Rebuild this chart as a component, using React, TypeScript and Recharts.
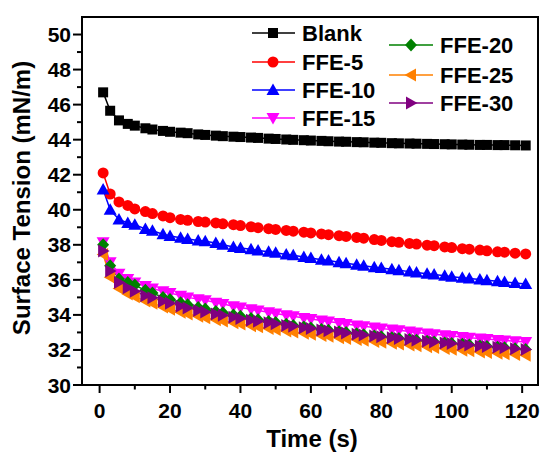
import React from 'react';
import { LineChart, Line, XAxis, YAxis, ReferenceArea } from 'recharts';

const FONT = '"Liberation Sans", Arial, Helvetica, sans-serif';

const times = [1, 3, 5.5, 8, 10, 13, 15, 18, 20, 23, 25, 28, 30, 33, 35, 38, 40, 43, 45, 48, 50, 53, 55, 58, 60, 63, 65, 68, 70, 73, 75, 78, 80, 83, 85, 88, 90, 93, 95, 98, 100, 103, 105, 108, 110, 113, 115, 118, 121];

const blank = [46.7, 45.65, 45.1, 44.9, 44.8, 44.65, 44.58, 44.5, 44.45, 44.4, 44.37, 44.3, 44.27, 44.23, 44.2, 44.17, 44.15, 44.12, 44.1, 44.06, 44.04, 44.01, 43.99, 43.97, 43.95, 43.93, 43.91, 43.89, 43.88, 43.86, 43.85, 43.83, 43.82, 43.8, 43.79, 43.78, 43.77, 43.76, 43.75, 43.74, 43.73, 43.72, 43.71, 43.7, 43.7, 43.69, 43.69, 43.68, 43.67];
const ffe5 = [42.1, 40.9, 40.45, 40.25, 40.05, 39.9, 39.78, 39.65, 39.55, 39.45, 39.4, 39.33, 39.3, 39.25, 39.2, 39.15, 39.1, 39.03, 38.98, 38.92, 38.88, 38.82, 38.78, 38.72, 38.68, 38.62, 38.58, 38.52, 38.48, 38.42, 38.38, 38.3, 38.25, 38.18, 38.14, 38.08, 38.04, 37.98, 37.95, 37.88, 37.84, 37.78, 37.75, 37.7, 37.66, 37.6, 37.58, 37.52, 37.48];
const ffe10 = [41.15, 40.0, 39.45, 39.25, 39.15, 38.9, 38.8, 38.6, 38.5, 38.4, 38.33, 38.25, 38.2, 38.1, 38.0, 37.88, 37.82, 37.74, 37.68, 37.6, 37.55, 37.45, 37.4, 37.3, 37.25, 37.15, 37.1, 37.0, 36.95, 36.86, 36.8, 36.72, 36.67, 36.6, 36.55, 36.47, 36.42, 36.35, 36.3, 36.23, 36.18, 36.12, 36.08, 36.02, 35.98, 35.92, 35.88, 35.82, 35.76];
const ffe15 = [38.15, 37.0, 36.35, 36.05, 35.85, 35.65, 35.5, 35.35, 35.25, 35.1, 35.0, 34.9, 34.83, 34.7, 34.62, 34.5, 34.42, 34.32, 34.25, 34.15, 34.08, 33.98, 33.92, 33.83, 33.77, 33.68, 33.62, 33.54, 33.48, 33.4, 33.35, 33.28, 33.23, 33.16, 33.12, 33.05, 33.0, 32.94, 32.9, 32.84, 32.8, 32.74, 32.7, 32.65, 32.62, 32.57, 32.54, 32.5, 32.46];
const ffe20 = [38.0, 36.8, 36.05, 35.85, 35.7, 35.4, 35.25, 35.0, 34.88, 34.7, 34.58, 34.42, 34.33, 34.2, 34.12, 34.0, 33.92, 33.8, 33.73, 33.62, 33.56, 33.46, 33.4, 33.31, 33.25, 33.17, 33.12, 33.04, 32.99, 32.92, 32.87, 32.8, 32.76, 32.7, 32.66, 32.6, 32.56, 32.5, 32.46, 32.4, 32.37, 32.32, 32.28, 32.23, 32.2, 32.15, 32.12, 32.07, 32.02];
const ffe25 = [37.45, 36.15, 35.5, 35.2, 35.03, 34.8, 34.67, 34.45, 34.32, 34.15, 34.05, 33.92, 33.84, 33.72, 33.65, 33.55, 33.48, 33.38, 33.32, 33.22, 33.17, 33.08, 33.03, 32.95, 32.9, 32.82, 32.78, 32.7, 32.66, 32.59, 32.55, 32.48, 32.44, 32.38, 32.34, 32.28, 32.24, 32.18, 32.14, 32.08, 32.04, 31.98, 31.95, 31.89, 31.86, 31.81, 31.78, 31.74, 31.7];
const ffe30 = [37.65, 36.5, 35.85, 35.55, 35.35, 35.1, 34.98, 34.78, 34.66, 34.5, 34.4, 34.25, 34.17, 34.05, 33.98, 33.87, 33.8, 33.7, 33.64, 33.55, 33.49, 33.4, 33.35, 33.27, 33.22, 33.14, 33.09, 33.02, 32.97, 32.9, 32.86, 32.79, 32.75, 32.69, 32.65, 32.59, 32.55, 32.49, 32.45, 32.4, 32.37, 32.31, 32.28, 32.23, 32.2, 32.15, 32.12, 32.07, 32.03];

const seriesNames = ['Blank', 'FFE-5', 'FFE-10', 'FFE-15', 'FFE-20', 'FFE-25', 'FFE-30'];
const seriesValues = [blank, ffe5, ffe10, ffe15, ffe20, ffe25, ffe30];
const seriesColors = ['#000000', '#FF0000', '#0000FF', '#FF00FF', '#008000', '#FF8000', '#800080'];
const seriesShapes = ['square', 'circle', 'up', 'down', 'diamond', 'left', 'right'];

const xTicks = [0, 10, 20, 30, 40, 50, 60, 70, 80, 90, 100, 110, 120];
const yTicks = [30, 31, 32, 33, 34, 35, 36, 37, 38, 39, 40, 41, 42, 43, 44, 45, 46, 47, 48, 49, 50];

const data = times.map((t, i) => {
  const row: Record<string, number> = { t };
  seriesNames.forEach((n, k) => {
    row[n] = seriesValues[k][i];
  });
  return row;
});

function Marker({ shape, cx, cy, color }: { shape: string; cx: number; cy: number; color: string }) {
  const p = (pts: number[][]) => pts.map((q) => `${q[0]},${q[1]}`).join(' ');
  switch (shape) {
    case 'square':
      return <rect x={cx - 5} y={cy - 5} width={10} height={10} fill={color} />;
    case 'circle':
      return <circle cx={cx} cy={cy} r={5.5} fill={color} />;
    case 'up':
      return <polygon points={p([[cx, cy - 6.5], [cx + 6.5, cy + 5], [cx - 6.5, cy + 5]])} fill={color} />;
    case 'down':
      return <polygon points={p([[cx, cy + 6.5], [cx + 6.5, cy - 5], [cx - 6.5, cy - 5]])} fill={color} />;
    case 'diamond':
      return <polygon points={p([[cx, cy - 6.5], [cx + 6, cy], [cx, cy + 6.5], [cx - 6, cy]])} fill={color} />;
    case 'left':
      return <polygon points={p([[cx - 6.5, cy], [cx + 5, cy - 6.5], [cx + 5, cy + 6.5]])} fill={color} />;
    case 'right':
      return <polygon points={p([[cx + 6.5, cy], [cx - 5, cy - 6.5], [cx - 5, cy + 6.5]])} fill={color} />;
    default:
      return null;
  }
}

const makeDot = (shape: string, color: string) => (props: any) => {
  const { cx, cy, index } = props;
  if (cx == null || cy == null) return <g key={`e${index}`} />;
  return (
    <g key={`d${index}`}>
      <Marker shape={shape} cx={cx} cy={cy} color={color} />
    </g>
  );
};

const XTick = (props: any) => {
  const { x, y, payload } = props;
  const major = payload.value % 20 === 0;
  return (
    <g>
      <line x1={x} x2={x} y1={y} y2={y + (major ? 8 : 4.5)} stroke="#000" strokeWidth={2} />
      {major && (
        <text x={x} y={y + 33} textAnchor="middle" fontFamily={FONT} fontWeight="bold" fontSize={21} fill="#000">
          {payload.value}
        </text>
      )}
    </g>
  );
};

const YTick = (props: any) => {
  const { x, y, payload } = props;
  const major = payload.value % 2 === 0;
  return (
    <g>
      <line x1={x - (major ? 9 : 5)} x2={x} y1={y} y2={y} stroke="#000" strokeWidth={2} />
      {major && (
        <text x={x - 11} y={y + 7.5} textAnchor="end" fontFamily={FONT} fontWeight="bold" fontSize={21} fill="#000">
          {payload.value}
        </text>
      )}
    </g>
  );
};

const legendCol1 = [0, 1, 2, 3];
const legendCol2 = [4, 5, 6];
const legendRows1 = [33, 62, 90, 118];
const legendRows2 = [45, 75, 103];

export default function App() {
  return (
    <div style={{ position: 'absolute', left: 0, top: 0, width: 541, height: 460, background: '#fff' }}>
      <LineChart width={541} height={460} data={data} margin={{ top: 17, right: 3, left: 0, bottom: 0 }}>
        <XAxis
          type="number"
          dataKey="t"
          domain={[-5, 124.5]}
          ticks={xTicks}
          interval={0}
          tick={<XTick />}
          tickLine={false}
          axisLine={false}
          tickSize={0}
          tickMargin={0}
          height={75}
          allowDataOverflow
        />
        <YAxis
          type="number"
          domain={[30, 51]}
          ticks={yTicks}
          interval={0}
          tick={<YTick />}
          tickLine={false}
          axisLine={false}
          tickSize={0}
          tickMargin={0}
          width={82}
          allowDataOverflow
        />
        <ReferenceArea x1={-5} x2={124.5} y1={30} y2={51} fill="none" stroke="#000" strokeWidth={2} ifOverflow="visible" />
        {seriesNames.map((n, k) => (
          <Line
            key={n}
            type="linear"
            dataKey={n}
            stroke={seriesColors[k]}
            strokeWidth={1.5}
            dot={makeDot(seriesShapes[k], seriesColors[k])}
            activeDot={false}
            isAnimationActive={false}
          />
        ))}
      </LineChart>
      <svg width={541} height={460} style={{ position: 'absolute', left: 0, top: 0, pointerEvents: 'none' }}>
        <text
          transform="translate(30, 198) rotate(-90)"
          textAnchor="middle"
          fontFamily={FONT}
          fontWeight="bold"
          fontSize={24}
          fill="#000"
        >
          Surface Tension (mN/m)
        </text>
        <text x={312} y={447} textAnchor="middle" fontFamily={FONT} fontWeight="bold" fontSize={24} fill="#000">
          Time (s)
        </text>
        {legendCol1.map((k, i) => (
          <g key={`l1${k}`}>
            <line x1={252} x2={295} y1={legendRows1[i]} y2={legendRows1[i]} stroke={seriesColors[k]} strokeWidth={1.5} />
            <Marker shape={seriesShapes[k]} cx={273} cy={legendRows1[i]} color={seriesColors[k]} />
            <text x={302} y={legendRows1[i] + 8} fontFamily={FONT} fontWeight="bold" fontSize={22} fill="#000">
              {seriesNames[k]}
            </text>
          </g>
        ))}
        {legendCol2.map((k, i) => (
          <g key={`l2${k}`}>
            <line x1={389} x2={433} y1={legendRows2[i]} y2={legendRows2[i]} stroke={seriesColors[k]} strokeWidth={1.5} />
            <Marker shape={seriesShapes[k]} cx={411} cy={legendRows2[i]} color={seriesColors[k]} />
            <text x={440} y={legendRows2[i] + 8} fontFamily={FONT} fontWeight="bold" fontSize={22} fill="#000">
              {seriesNames[k]}
            </text>
          </g>
        ))}
      </svg>
    </div>
  );
}
